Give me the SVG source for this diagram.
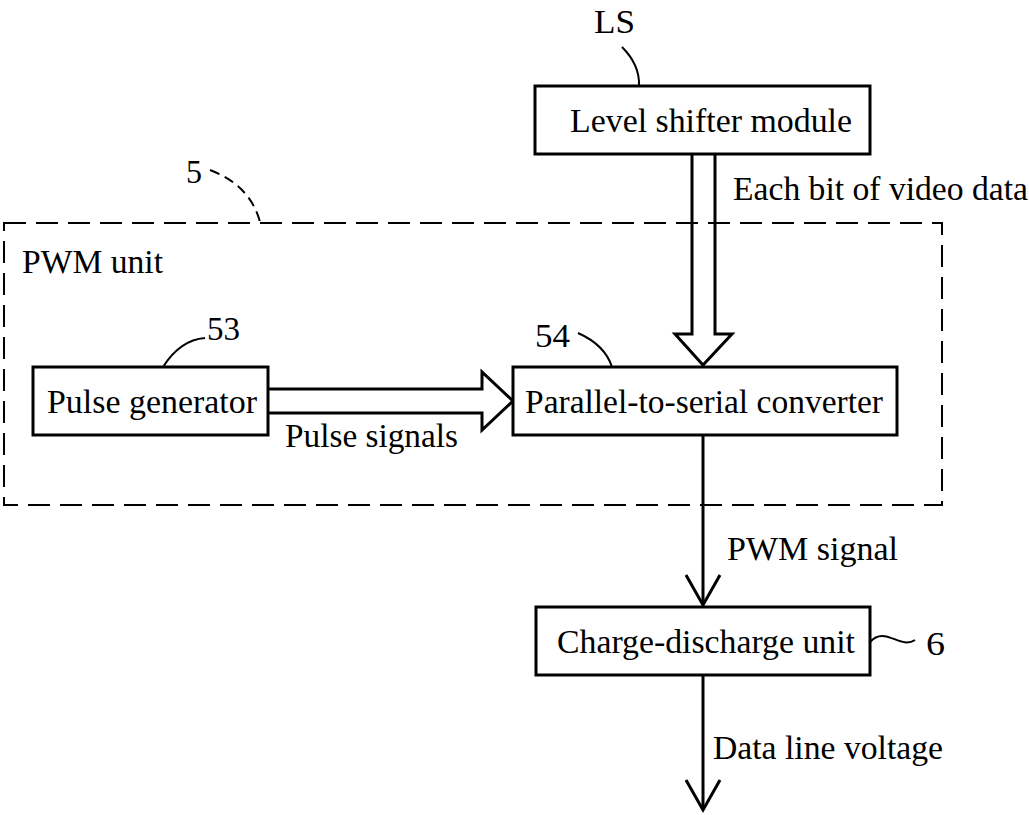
<svg xmlns="http://www.w3.org/2000/svg" width="1029" height="815" viewBox="0 0 1029 815" font-family="'Liberation Serif', 'DejaVu Serif', serif">
<style>
text{font-size:33px;fill:#000}
.box{fill:#fff;stroke:#000;stroke-width:3}
.ln{fill:none;stroke:#000;stroke-width:3}
.dash{fill:none;stroke:#000;stroke-width:2;stroke-dasharray:22 10}
.lead{fill:none;stroke:#000;stroke-width:2}
</style>
<g id="pwm-unit">
<rect x="4" y="223" width="938" height="282" class="dash"/>
<text x="22" y="273" textLength="141" lengthAdjust="spacingAndGlyphs">PWM unit</text>
<path d="M210 170 Q250 185 260 222" class="lead" stroke-dasharray="10 6"/>
<text x="186" y="183" textLength="16" lengthAdjust="spacingAndGlyphs">5</text>
</g>
<g id="connectors">
<path d="M692 154 V334 H675 L703 365 L732 334 H715 V154" class="ln" fill="#fff"/>
<path d="M268 389 H482 V372 L513 401 L482 430 V413 H268" class="ln"/>
<path d="M703 435 V605" class="ln"/>
<path d="M686 575 L703 605 L720 575" class="ln"/>
<path d="M703 675 V810" class="ln"/>
<path d="M686 780 L703 810 L720 780" class="ln"/>
<text x="733" y="200" textLength="295" lengthAdjust="spacingAndGlyphs">Each bit of video data</text>
<text x="285" y="447" textLength="173" lengthAdjust="spacingAndGlyphs">Pulse signals</text>
<text x="727" y="560" textLength="171" lengthAdjust="spacingAndGlyphs">PWM signal</text>
<text x="713" y="759" textLength="230" lengthAdjust="spacingAndGlyphs">Data line voltage</text>
</g>
<g id="level-shifter">
<rect x="535" y="86" width="335" height="68" class="box"/>
<text x="570" y="132" textLength="282" lengthAdjust="spacingAndGlyphs">Level shifter module</text>
<path d="M622 47 Q640 65 639 86" class="lead"/>
<text x="594" y="33" textLength="41" lengthAdjust="spacingAndGlyphs">LS</text>
</g>
<g id="pulse-generator">
<rect x="33" y="367" width="235" height="68" class="box"/>
<text x="47" y="413" textLength="210" lengthAdjust="spacingAndGlyphs">Pulse generator</text>
<path d="M163 367 Q180 340 205 338" class="lead"/>
<text x="207" y="340" textLength="33" lengthAdjust="spacingAndGlyphs">53</text>
</g>
<g id="p2s-converter">
<rect x="513" y="367" width="384" height="68" class="box"/>
<text x="525" y="413" textLength="358" lengthAdjust="spacingAndGlyphs">Parallel-to-serial converter</text>
<path d="M578 333 Q605 345 612 367" class="lead"/>
<text x="535" y="347" textLength="35" lengthAdjust="spacingAndGlyphs">54</text>
</g>
<g id="charge-discharge">
<rect x="536" y="607" width="334" height="68" class="box"/>
<text x="557" y="653" textLength="298" lengthAdjust="spacingAndGlyphs">Charge-discharge unit</text>
<path d="M870 642 C885 625 900 650 915 640" class="lead"/>
<text x="926" y="655" textLength="19" lengthAdjust="spacingAndGlyphs">6</text>
</g>
</svg>
